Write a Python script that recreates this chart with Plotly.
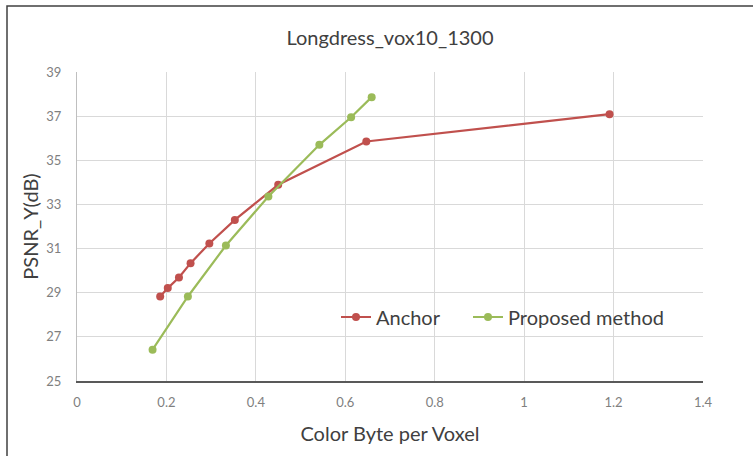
import plotly.graph_objects as go

anchor_x = [0.186, 0.203, 0.228, 0.254, 0.296, 0.353, 0.450, 0.647, 1.191]
anchor_y = [28.83, 29.21, 29.69, 30.34, 31.23, 32.30, 33.89, 35.85, 37.09]
prop_x = [0.169, 0.248, 0.333, 0.428, 0.542, 0.613, 0.659]
prop_y = [26.42, 28.83, 31.14, 33.36, 35.70, 36.95, 37.86]
x_ticks = [0, 0.2, 0.4, 0.6, 0.8, 1, 1.2, 1.4]
y_ticks = [25, 27, 29, 31, 33, 35, 37, 39]

FONT = "Lato"
fig = go.Figure()
fig.add_trace(go.Scatter(x=anchor_x, y=anchor_y, mode="lines+markers", name="Anchor",
                         line=dict(color="#C0504D", width=2.2),
                         marker=dict(color="#C0504D", size=8), legend="legend"))
fig.add_trace(go.Scatter(x=prop_x, y=prop_y, mode="lines+markers", name="Proposed method",
                         line=dict(color="#9BBB59", width=2.2),
                         marker=dict(color="#9BBB59", size=8), legend="legend2"))

L, R, T, B = 77, 50, 72, 75
W, H = 753, 456
pw, ph = W - L - R, H - T - B

def px(x):
    return (x - L) / pw

def py(y):
    return (H - B - y) / ph

leg_common = dict(orientation="h", xanchor="left", y=py(317), yanchor="middle",
                  bgcolor="rgba(255,255,255,0)", font=dict(size=20, color="#404040"),
                  itemwidth=30)

fig.update_layout(
    width=W, height=H,
    margin=dict(l=L, r=R, t=T, b=B, autoexpand=False),
    paper_bgcolor="white", plot_bgcolor="white",
    font=dict(family=FONT, color="#595959"),
    title=dict(text="Longdress_vox10_1300", x=0.5, xref="paper", xanchor="center",
               y=1 - 38 / H, yanchor="middle",
               font=dict(size=20, color="#404040", family=FONT)),
    xaxis=dict(range=[0, 1.4], tickvals=x_ticks, ticktext=[str(v) for v in x_ticks],
               showgrid=True, gridcolor="#D9D9D9", gridwidth=1,
               showline=True, linecolor="#595959", linewidth=1.5,
               zeroline=False, ticks="", tickfont=dict(size=13, color="#7F7F7F"),
               ticklabelstandoff=9, automargin=False,
               title=dict(text="Color Byte per Voxel", font=dict(size=20, color="#404040"), standoff=18)),
    yaxis=dict(range=[25, 39], tickvals=y_ticks,
               showgrid=True, gridcolor="#D9D9D9", gridwidth=1,
               showline=True, linecolor="#BFBFBF", linewidth=1,
               zeroline=False, ticks="", tickfont=dict(size=13, color="#7F7F7F"),
               ticklabelstandoff=12, automargin=False,
               title=dict(text="PSNR_Y(dB)", font=dict(size=20, color="#404040"), standoff=2)),
    legend=dict(x=px(336), **leg_common),
    legend2=dict(x=px(468), **leg_common),
    showlegend=True,
)
fig.add_shape(type="rect", xref="paper", yref="paper",
              x0=px(7), x1=px(760), y0=py(6), y1=py(470),
              line=dict(color="#404040", width=1.5), fillcolor="rgba(0,0,0,0)", layer="below")

fig.write_html("out.html", config={"displayModeBar": False},
               post_script="document.body.style.margin='0';document.body.style.overflow='hidden';")
